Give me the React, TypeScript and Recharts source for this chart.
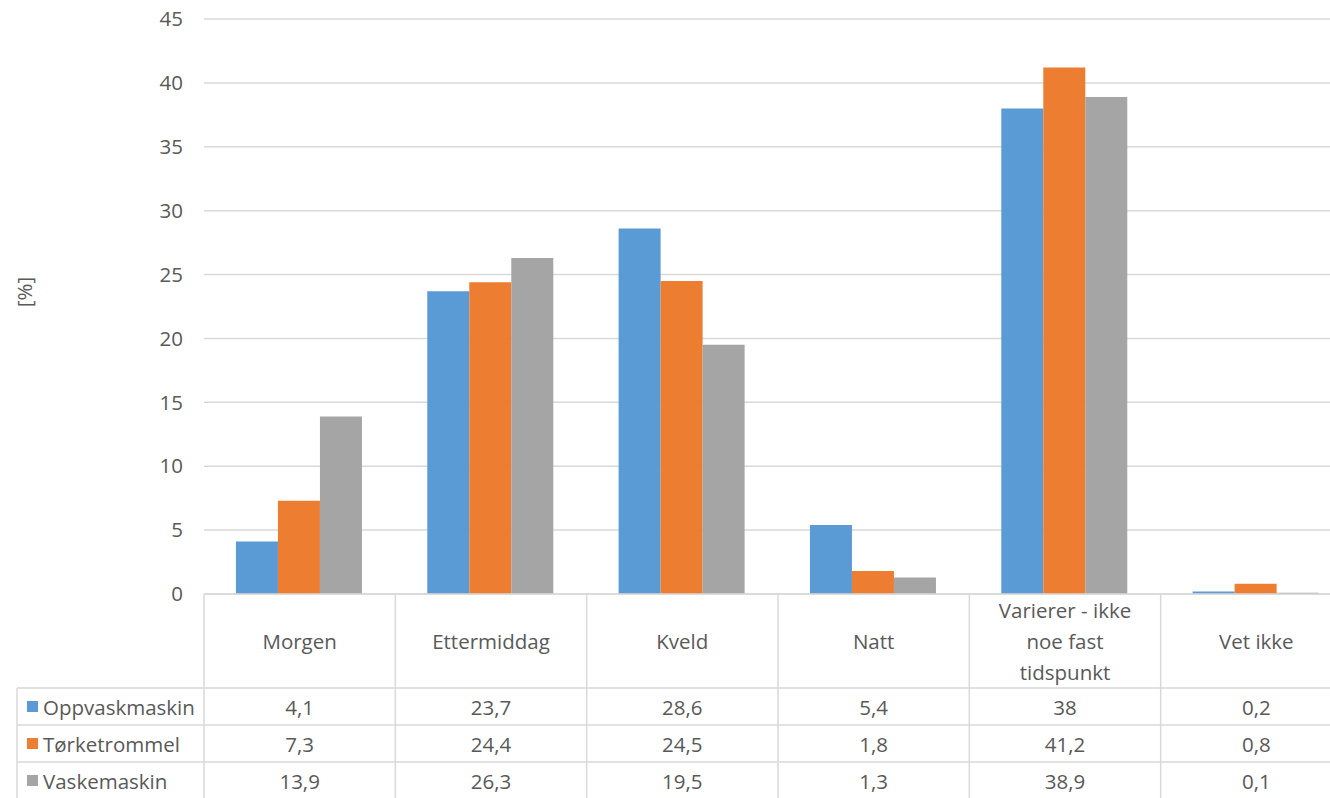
import React from 'react';
import { BarChart, Bar, XAxis, YAxis, CartesianGrid } from 'recharts';

const categories = ['Morgen', 'Ettermiddag', 'Kveld', 'Natt', 'Varierer - ikke noe fast tidspunkt', 'Vet ikke'];
const categoryLines = [['Morgen'], ['Ettermiddag'], ['Kveld'], ['Natt'], ['Varierer - ikke', 'noe fast', 'tidspunkt'], ['Vet ikke']];
const oppvaskmaskin = [4.1, 23.7, 28.6, 5.4, 38, 0.2];
const torketrommel = [7.3, 24.4, 24.5, 1.8, 41.2, 0.8];
const vaskemaskin = [13.9, 26.3, 19.5, 1.3, 38.9, 0.1];
const seriesNames = ['Oppvaskmaskin', 'Tørketrommel', 'Vaskemaskin'];
const seriesKeys = ['oppvaskmaskin', 'torketrommel', 'vaskemaskin'];
const seriesColors = ['#5B9BD5', '#ED7D31', '#A5A5A5'];
const seriesValues = [oppvaskmaskin, torketrommel, vaskemaskin];
const yTicks = [0, 5, 10, 15, 20, 25, 30, 35, 40, 45];

const data = categories.map((c, i) => ({
  name: c,
  oppvaskmaskin: oppvaskmaskin[i],
  torketrommel: torketrommel[i],
  vaskemaskin: vaskemaskin[i],
}));

const CHART_W = 1360;
const CHART_H = 798;
const MARGIN = { top: 19, right: 8, bottom: 0, left: 14 };
const Y_AXIS_W = 190;
const X_AXIS_H = 204;
const PLOT_W = CHART_W - MARGIN.left - MARGIN.right - Y_AXIS_W;
const BAND = PLOT_W / categories.length;
const HEADER_H = 94;
const ROW_H = 37;
const LEGEND_LEFT = 17;
const FONT = "'Open Sans', 'Noto Sans', sans-serif";
const TEXT = '#595959';
const LINE = '#D9D9D9';
const FS = 20.5;

const fmt = (v: number) => String(v).replace('.', ',');

const TableTick = (props: any) => {
  const { x, y, payload } = props;
  const i = payload.index;
  const half = BAND / 2;
  const left = x - half;
  const right = x + half;
  const rowTop = y + HEADER_H;
  const bottom = rowTop + ROW_H * seriesNames.length;
  const lines = categoryLines[i];
  const lh = 31;
  const cy = y + HEADER_H / 2;
  const startY = cy - ((lines.length - 1) * lh) / 2;
  const els: React.ReactNode[] = [];
  els.push(<line key="vr" x1={right} y1={y} x2={right} y2={bottom + 5} stroke={LINE} strokeWidth={1.5} />);
  if (i === 0) {
    els.push(<line key="vl" x1={left} y1={y} x2={left} y2={bottom + 5} stroke={LINE} strokeWidth={1.5} />);
    els.push(<line key="vll" x1={LEGEND_LEFT} y1={rowTop} x2={LEGEND_LEFT} y2={bottom + 5} stroke={LINE} strokeWidth={1.5} />);
  }
  for (let r = 0; r <= seriesNames.length; r++) {
    const yy = rowTop + r * ROW_H;
    els.push(<line key={'h' + r} x1={i === 0 ? LEGEND_LEFT : left} y1={yy} x2={right} y2={yy} stroke={LINE} strokeWidth={1.5} />);
  }
  lines.forEach((t, k) => {
    els.push(
      <text key={'c' + k} x={x} y={startY + k * lh} textAnchor="middle" dominantBaseline="central" fill={TEXT} fontSize={FS} fontFamily={FONT}>
        {t}
      </text>
    );
  });
  seriesValues.forEach((vals, r) => {
    const ry = rowTop + r * ROW_H + ROW_H / 2;
    els.push(
      <text key={'v' + r} x={x} y={ry} textAnchor="middle" dominantBaseline="central" fill={TEXT} fontSize={FS} fontFamily={FONT}>
        {fmt(vals[i])}
      </text>
    );
    if (i === 0) {
      els.push(<rect key={'s' + r} x={LEGEND_LEFT + 10} y={ry - 5.5} width={11} height={11} fill={seriesColors[r]} />);
      els.push(
        <text key={'n' + r} x={LEGEND_LEFT + 26} y={ry} textAnchor="start" dominantBaseline="central" fill={TEXT} fontSize={FS} fontFamily={FONT}>
          {seriesNames[r]}
        </text>
      );
    }
  });
  return <g>{els}</g>;
};

const YLabel = () => (
  <text x={24} y={292} transform="rotate(-90 24 292)" textAnchor="middle" dominantBaseline="central" fill={TEXT} fontSize={FS} fontFamily={FONT}>
    [%]
  </text>
);

export default function App() {
  return (
    <div style={{ position: 'absolute', left: 0, top: 0, width: 1330, height: 798, overflow: 'hidden', background: '#fff' }}>
      <BarChart width={CHART_W} height={CHART_H} data={data} margin={MARGIN} barGap={0} barCategoryGap="16.7%">
        <CartesianGrid vertical={false} stroke={LINE} strokeWidth={1.5} />
        <XAxis
          dataKey="name"
          height={X_AXIS_H}
          axisLine={{ stroke: LINE, strokeWidth: 1.5 }}
          tickLine={false}
          tickSize={0}
          tickMargin={0}
          interval={0}
          tick={<TableTick />}
        />
        <YAxis
          width={Y_AXIS_W}
          domain={[0, 45]}
          ticks={yTicks}
          axisLine={false}
          tickLine={false}
          tickSize={0}
          tickMargin={21}
          tick={{ fill: TEXT, fontSize: FS, fontFamily: FONT }}
          label={<YLabel />}
        />
        {seriesKeys.map((k, idx) => (
          <Bar key={k} dataKey={k} name={seriesNames[idx]} fill={seriesColors[idx]} isAnimationActive={false} />
        ))}
      </BarChart>
    </div>
  );
}
